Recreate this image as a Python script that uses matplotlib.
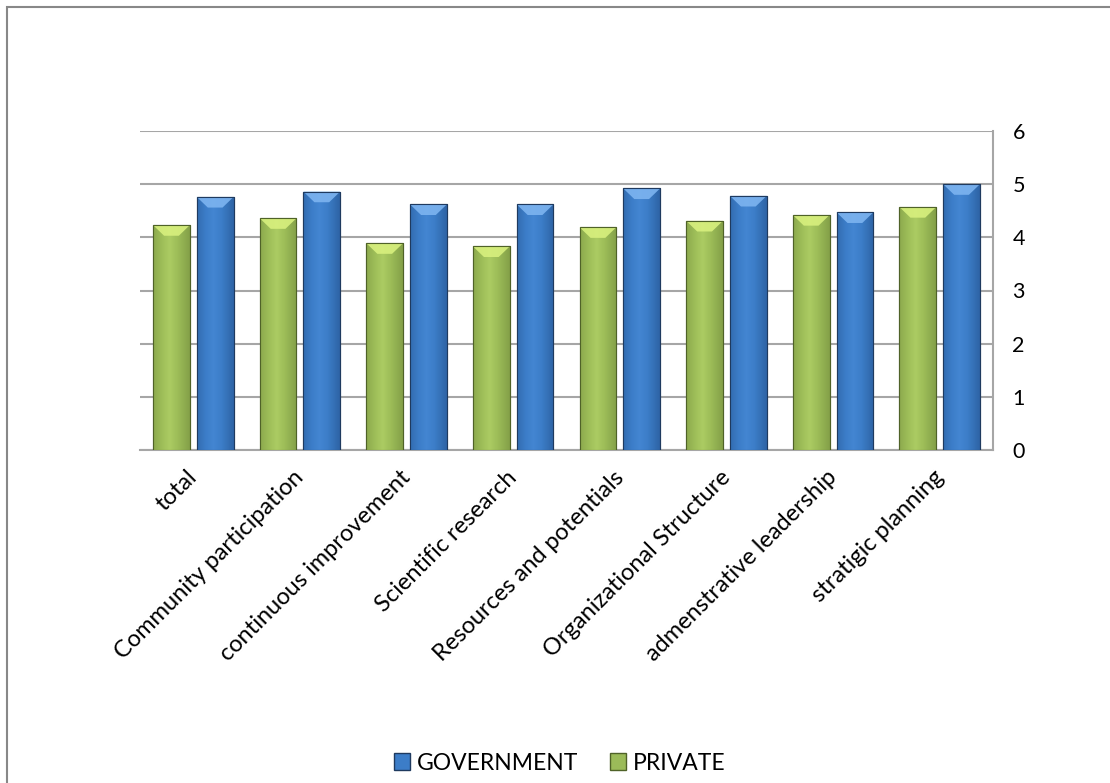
import matplotlib
matplotlib.use("Agg")
import matplotlib.pyplot as plt
import matplotlib.transforms as mtransforms
import numpy as np
from matplotlib.patches import Patch, Rectangle, Polygon
from matplotlib.colors import LinearSegmentedColormap

# data
categories = ["total", "Community participation", "continuous improvement",
              "Scientific research", "Resources and potentials",
              "Organizational Structure", "admenstrative leadership",
              "stratigic planning"]
private = [4.23, 4.36, 3.89, 3.83, 4.19, 4.31, 4.42, 4.57]
government = [4.76, 4.86, 4.62, 4.62, 4.92, 4.78, 4.47, 5.00]

plt.rcParams['font.family'] = ['Lato', 'DejaVu Sans']

fig = plt.figure(figsize=(11.1, 7.83), dpi=100)
ax = fig.add_axes([140 / 1110, 1 - 450 / 783, 853 / 1110, 319 / 783])

x = np.arange(len(categories))
w = 0.345
bars_p = ax.bar(x - 0.205, private, w, color="#9BBB59", edgecolor="#4F6228",
                linewidth=0.8, zorder=3)
bars_g = ax.bar(x + 0.205, government, w, color="#3C7DC8", edgecolor="#1F3A5F",
                linewidth=0.8, zorder=3)


def shade(bars, light, mid, dark, bevel):
    # horizontal gradient inside each bar plus a lighter bevel on top
    grad = np.linspace(0, 1, 64)
    prof = np.clip(1 - np.abs(grad - 0.45) * 1.6, 0, 1)
    cmap = LinearSegmentedColormap.from_list("c", [dark, mid, light])
    for b in bars:
        x0, bw, h = b.get_x(), b.get_width(), b.get_height()
        im = ax.imshow(prof[None, :], cmap=cmap, vmin=0, vmax=1.3, aspect="auto",
                       extent=[x0, x0 + bw, 0, h], zorder=3.5)
        im.set_clip_path(b)
        bh = 0.2
        poly = Polygon([[x0, h], [x0 + bw, h], [x0 + bw * 0.7, h - bh],
                        [x0 + bw * 0.3, h - bh]], closed=True,
                       facecolor=bevel, edgecolor="none", alpha=0.9, zorder=4)
        ax.add_patch(poly)
        ax.add_patch(Rectangle((x0, 0), bw, h, fill=False,
                               edgecolor=b.get_edgecolor(), lw=0.8, zorder=5))


shade(bars_p, "#B8D86C", "#9DBD58", "#7E9A45", "#D8F07E")
shade(bars_g, "#4A8DDA", "#3C7DC8", "#2B5F9E", "#7DB4F0")

ax.set_xlim(-0.5, len(categories) - 0.5)
ax.set_ylim(0, 6)
ax.set_yticks(range(0, 7))
ax.yaxis.tick_right()
ax.tick_params(axis="y", length=0, pad=14, labelsize=15.5)
ax.tick_params(axis="x", length=0, pad=12)
ax.set_xticks(x)
ax.set_xticklabels(categories, rotation=45, ha="right", va="top",
                   rotation_mode="anchor", fontsize=17)
shift = mtransforms.ScaledTranslation(-7 / 100, 0, fig.dpi_scale_trans)
for lab in ax.get_xticklabels():
    lab.set_transform(lab.get_transform() + shift)
ax.grid(axis="y", color="#A6A6A6", linewidth=1.5, zorder=0)
for s in ["left", "top"]:
    ax.spines[s].set_visible(False)
ax.spines["right"].set_color("#A6A6A6")
ax.spines["right"].set_linewidth(1.5)
ax.spines["bottom"].set_color("#A6A6A6")
ax.spines["bottom"].set_linewidth(1.5)

handles = [Patch(facecolor="#3C7DC8", edgecolor="#1F3A5F", label="GOVERNMENT"),
           Patch(facecolor="#9BBB59", edgecolor="#4F6228", label="PRIVATE")]
fig.legend(handles=handles, loc="center", bbox_to_anchor=(560 / 1110, 1 - 763 / 783),
           ncol=2, frameon=False, fontsize=16.5, handlelength=0.7, handleheight=0.7,
           handletextpad=0.3, columnspacing=1.4)

# outer chart frame (only left and top edges fall inside the picture)
fig.add_artist(Rectangle((7 / 1110, -0.1), 2, 1 - 7 / 783 + 0.1,
                         transform=fig.transFigure, fill=False,
                         edgecolor="#888888", linewidth=1.5))

fig.savefig("out.png", dpi=100)
